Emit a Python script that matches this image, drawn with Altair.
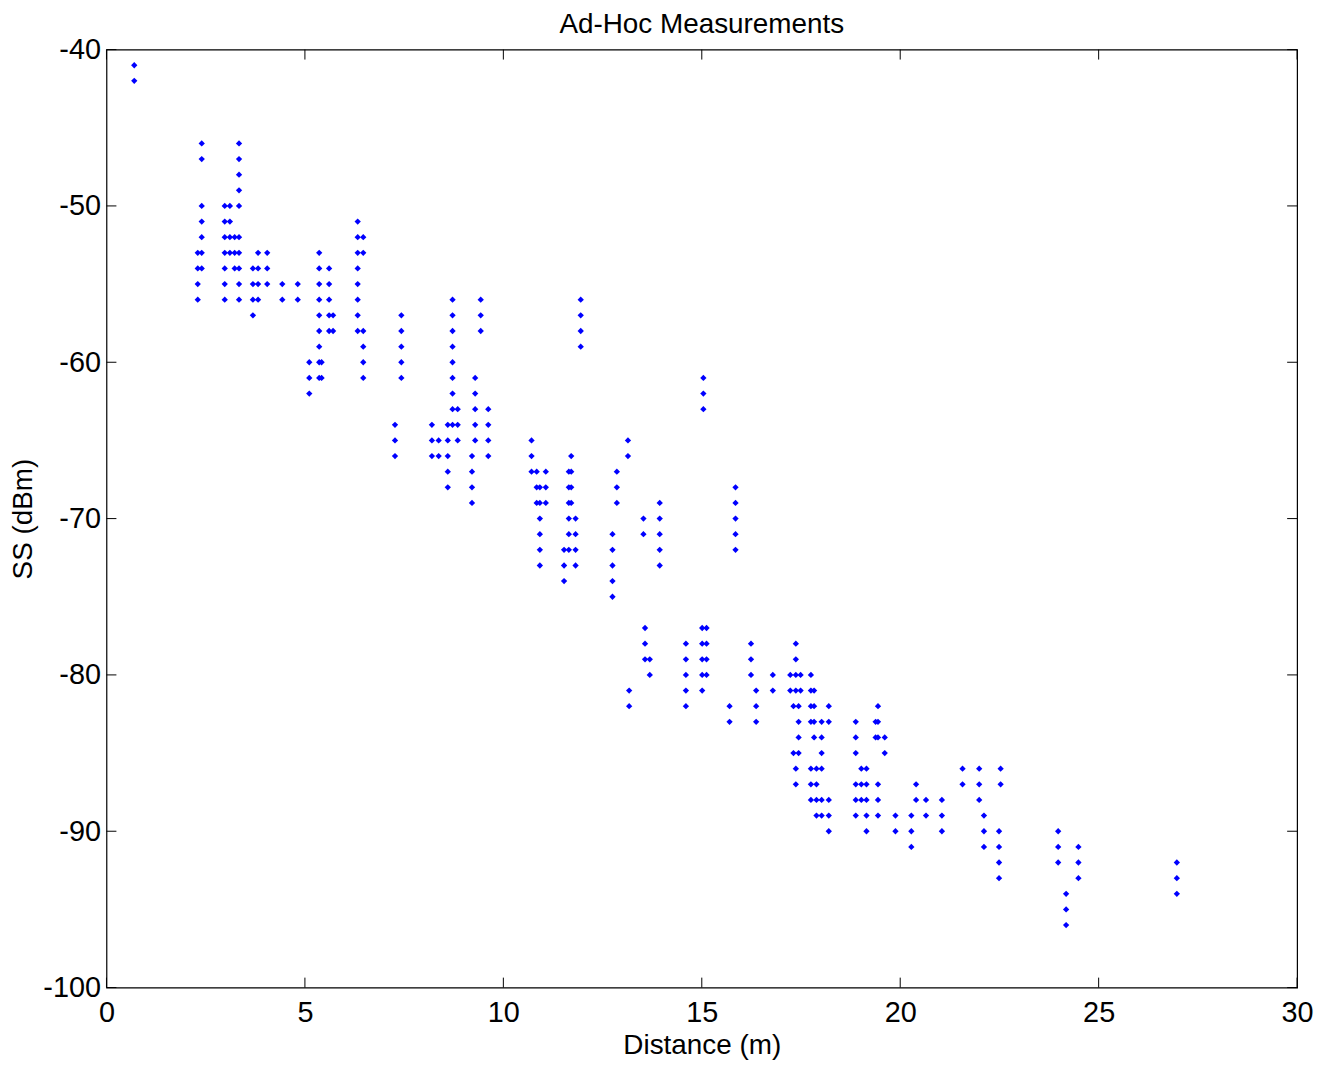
import altair as alt
import pandas as pd

# Column positions (distance, m) and the signal strengths (dBm) measured there
col_distance = [
    0.70, 2.30, 2.40, 2.98, 3.11, 3.23, 3.34, 3.69, 3.82, 4.05,
    4.43, 4.82, 5.11, 5.36, 5.42, 5.61, 5.71, 6.33, 6.47, 7.27,
    7.43, 8.20, 8.37, 8.60, 8.72, 8.85, 9.21, 9.29, 9.43, 9.62,
    10.71, 10.84, 10.92, 11.07, 11.53, 11.65, 11.71, 11.82, 11.95, 12.75,
    12.86, 13.14, 13.53, 13.94, 15.04, 15.85, 13.17, 13.57, 13.69, 14.60,
    15.01, 15.12, 15.70, 16.24, 16.37, 16.79, 17.23, 17.31, 17.37, 17.44,
    17.49, 17.75, 17.83, 17.89, 18.02, 18.20, 18.88, 19.02, 19.15, 19.38,
    19.44, 19.61, 19.88, 20.28, 20.40, 20.65, 21.05, 21.57, 21.99, 22.11,
    22.53, 22.49, 23.98, 24.18, 24.49, 26.97,
]
col_ss = [
    [-41, -42],
    [-53, -54, -55, -56],
    [-46, -47, -50, -51, -52, -53, -54],
    [-50, -51, -52, -53, -54, -55, -56],
    [-50, -51, -52, -53],
    [-52, -53, -54],
    [-46, -47, -48, -49, -50, -52, -53, -54, -55, -56],
    [-54, -55, -56, -57],
    [-53, -54, -55, -56],
    [-53, -54, -55],
    [-55, -56],
    [-55, -56],
    [-60, -61, -62],
    [-53, -54, -55, -56, -57, -58, -59, -60, -61],
    [-60, -61],
    [-54, -55, -56, -57, -58],
    [-57, -58],
    [-51, -52, -53, -54, -55, -56, -57, -58],
    [-52, -53, -58, -59, -60, -61],
    [-64, -65, -66],
    [-57, -58, -59, -60, -61],
    [-64, -65, -66],
    [-65, -66],
    [-64, -65, -66, -67, -68],
    [-56, -57, -58, -59, -60, -61, -62, -63, -64],
    [-63, -64, -65],
    [-66, -67, -68, -69],
    [-61, -62, -63, -64, -65],
    [-56, -57, -58],
    [-63, -64, -65, -66],
    [-65, -66, -67],
    [-67, -68, -69],
    [-68, -69, -70, -71, -72, -73],
    [-67, -68, -69],
    [-72, -73, -74],
    [-67, -68, -69, -70, -71, -72],
    [-66, -67, -68, -69],
    [-70, -71, -72, -73],
    [-56, -57, -58, -59],
    [-71, -72, -73, -74, -75],
    [-67, -68, -69],
    [-65, -66],
    [-70, -71],
    [-69, -70, -71, -72, -73],
    [-61, -62, -63],
    [-68, -69, -70, -71, -72],
    [-81, -82],
    [-77, -78, -79],
    [-79, -80],
    [-78, -79, -80, -81, -82],
    [-77, -78, -79, -80, -81],
    [-77, -78, -79, -80],
    [-82, -83],
    [-78, -79, -80],
    [-81, -82, -83],
    [-80, -81],
    [-80, -81],
    [-82, -85],
    [-78, -79, -80, -81, -86, -87],
    [-82, -83, -84, -85],
    [-80, -81],
    [-80, -81, -82, -83, -86, -87, -88],
    [-81, -82, -83, -84],
    [-86, -87, -88, -89],
    [-83, -84, -85, -86, -88, -89],
    [-82, -83, -88, -89, -90],
    [-83, -84, -85, -87, -88, -89],
    [-86, -87, -88],
    [-86, -87, -88, -89, -90],
    [-83, -84],
    [-82, -83, -84, -87, -88, -89],
    [-84, -85],
    [-89, -90],
    [-89, -90, -91],
    [-87, -88],
    [-88, -89],
    [-88, -89, -90],
    [-86, -87],
    [-86, -87, -88],
    [-89, -90, -91],
    [-86, -87],
    [-90, -91, -92, -93],
    [-90, -91, -92],
    [-94, -95, -96],
    [-91, -92, -93],
    [-92, -93, -94],
]

x_ticks = [0, 5, 10, 15, 20, 25, 30]
y_ticks = [-100, -90, -80, -70, -60, -50, -40]

rows = [{"distance": d, "ss": s} for d, ys in zip(col_distance, col_ss) for s in ys]
df = pd.DataFrame(rows)
xt = pd.DataFrame({"distance": x_ticks})
yt = pd.DataFrame({"ss": y_ticks})

W, H = 1197, 943
FONT = "Liberation Sans"
LFS = 29
TFS = 28
TICK = 10

xscale = alt.Scale(domain=[0, 30], nice=False, zero=False)
yscale = alt.Scale(domain=[-100, -40], nice=False, zero=False)

xaxis = alt.Axis(values=x_ticks, title="Distance (m)", grid=False,
                 domain=False, ticks=False, labelPadding=11, labelFlush=False,
                 titlePadding=4, labelFont=FONT, titleFont=FONT,
                 labelFontSize=LFS, titleFontSize=TFS, labelExpr="datum.value + ''",
                 titleFontWeight="normal", labelColor="black",
                 titleColor="black")
yaxis = alt.Axis(values=y_ticks, title="SS (dBm)", grid=False,
                 domain=False, ticks=False, labelPadding=6, labelFlush=False,
                 titlePadding=5, labelFont=FONT, titleFont=FONT,
                 labelFontSize=LFS, titleFontSize=TFS, labelExpr="datum.value + ''",
                 titleFontWeight="normal", labelColor="black",
                 titleColor="black")

X = alt.X("distance:Q", scale=xscale, axis=xaxis)
Y = alt.Y("ss:Q", scale=yscale, axis=yaxis)

points = alt.Chart(df).mark_point(
    shape="diamond", filled=True, size=40, color="#0000ff", opacity=1
).encode(x=X, y=Y)

bottom_ticks = alt.Chart(xt).mark_rule(color="black", strokeWidth=1).encode(
    x=X, y=alt.value(H), y2=alt.value(H - TICK))
top_ticks = alt.Chart(xt).mark_rule(color="black", strokeWidth=1).encode(
    x=X, y=alt.value(0), y2=alt.value(TICK))
left_ticks = alt.Chart(yt).mark_rule(color="black", strokeWidth=1).encode(
    y=Y, x=alt.value(0), x2=alt.value(TICK))
right_ticks = alt.Chart(yt).mark_rule(color="black", strokeWidth=1).encode(
    y=Y, x=alt.value(W), x2=alt.value(W - TICK))

chart = alt.layer(points, bottom_ticks, top_ticks, left_ticks, right_ticks).properties(
    width=W, height=H,
    title=alt.TitleParams("Ad-Hoc Measurements", font=FONT, fontSize=TFS,
                          fontWeight="normal", color="black", anchor="middle",
                          offset=-3),
    padding={"left": 1, "top": 0, "right": 0, "bottom": 0},
    background="white",
).configure_view(stroke="black", strokeWidth=1.2)

chart.save("out.html", embed_options={"renderer": "svg", "actions": False})
